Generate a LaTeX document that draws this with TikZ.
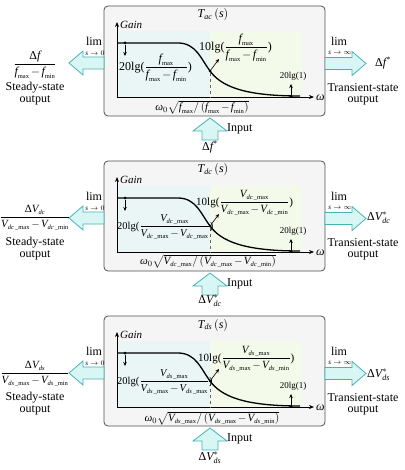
\documentclass[tikz,border=0pt]{standalone}
\usepackage{amsmath}
\usepackage{fontspec}
\setmainfont{Liberation Serif}
\usetikzlibrary{arrows.meta}
\definecolor{boxfill}{HTML}{F5F5F5}
\definecolor{boxline}{HTML}{505050}
\definecolor{arrfill}{HTML}{D8F6F4}
\definecolor{arrline}{HTML}{45B3B5}
\definecolor{shadeL}{HTML}{E9F6F5}
\definecolor{shadeR}{HTML}{F4FAE9}
\newcommand{\vi}[1]{\textit{#1}}
\newcommand{\Dl}{\text{Δ}}
\newcommand{\sbs}[1]{\text{\fontsize{6.5}{7}\selectfont #1}}
\newcommand{\mns}{\mathbin{\mkern-2mu-\mkern-2mu}}
\newcommand{\fmax}{\vi{f}_{\sbs{max}}}
\newcommand{\fmin}{\vi{f}_{\sbs{min}}}
\newcommand{\Vm}[2]{\vi{V}_{\sbs{\textit{#1}\,\_#2}}}
\tikzset{
  panelbox/.style={draw=boxline, line width=0.8pt, fill=boxfill, rounded corners=4pt},
  hollow/.style={draw=arrline, fill=arrfill, line width=0.8pt, line join=miter},
  lbl/.style={inner sep=0pt, font=\fontsize{12}{14}\selectfont},
  midtext/.style={inner sep=0pt, font=\fontsize{11}{13}\selectfont},
  lgsmall/.style={inner sep=0pt, font=\fontsize{10.5}{12}\selectfont},
  tinytext/.style={inner sep=0pt, font=\fontsize{7}{8}\selectfont},
  smalltext/.style={inner sep=0pt, font=\fontsize{9}{10}\selectfont},
  axisline/.style={line width=0.8pt, -{Stealth[length=5pt,width=4pt]}},
  pointer/.style={line width=0.6pt, -{Stealth[length=4pt,width=3.5pt]}},
  curve/.style={line width=1.3pt},
  dashline/.style={dashed, draw=black!60, line width=0.6pt},
  dot/.style={circle, fill=black, inner sep=0pt, minimum size=3pt}
}
\newcommand{\panelframe}[3]{%
\begin{scope}[shift={(0,#2)}]
  \node[panelbox, minimum width=221pt, minimum height=110pt] (#1box) at (214.5,61) {};
  \fill[shadeL] (117,31) rectangle (210,97);
  \fill[shadeR] (210,31) rectangle (302,97);
  \node[lbl] (#1title) at (213,15) {#3};
  \coordinate (#1o) at (117,97);
  \coordinate (#1yt) at (117,22);
  \coordinate (#1xt) at (314,97);
  \draw[curve] (117,43) -- (178,43) .. controls (196,43) and (201,59) .. (210,71) .. controls (221,86) and (243,96) .. (300,96);
  \draw[axisline] (#1o) -- (#1yt);
  \draw[axisline] (#1o) -- (#1xt);
  \node[midtext, anchor=west] (#1gain) at (120,25) {\textit{Gain}};
  \node[lbl, anchor=west] (#1omega) at (316,97.5) {\textit{ω}};
  \node[dot] (#1da) at (125,43) {};
  \node[dot] (#1db) at (210,71) {};
  \node[dot] (#1dc) at (291,96.5) {};
  \coordinate (#1aa) at (125,56);
  \coordinate (#1ab) at (219,59);
  \coordinate (#1ac) at (291,84);
  \coordinate (#1dash) at (210,97);
  \draw[dashline] (#1db) -- (#1dash);
  \draw[pointer] (#1da) -- (#1aa);
  \draw[pointer] (#1db) -- (#1ab);
  \draw[pointer] (#1dc) -- (#1ac);
  \node[smalltext] (#1one) at (293,76) {20lg(1)};
  \draw[hollow] (69,63) -- (83,51) -- (83,57) -- (104,57) -- (104,69) -- (83,69) -- (83,75) -- cycle;
  \draw[hollow] (325,57.5) -- (352,57.5) -- (352,51.5) -- (366,63.5) -- (352,75.5) -- (352,69.5) -- (325,69.5) -- cycle;
  \draw[hollow] (210,118) -- (227,131) -- (218,131) -- (218,140) -- (202,140) -- (202,131) -- (193,131) -- cycle;
  \node[lbl, anchor=west] (#1input) at (227,129) {Input};
  \node[lbl] (#1lima) at (94,41.5) {lim};
  \node[tinytext] (#1limas) at (95,53) {$\vi{s}\rightarrow 0$};
  \node[lbl] (#1limb) at (339,41.5) {lim};
  \node[tinytext] (#1limbs) at (340,53) {$\vi{s}\rightarrow\infty$};
  \node[lbl] (#1ss) at (35,87.5) {Steady-state};
  \node[lbl] (#1so) at (35,100) {output};
  \node[lbl] (#1ts) at (363,87.5) {Transient-state};
  \node[lbl] (#1to) at (363,100.5) {output};
\end{scope}}
\begin{document}
\begin{tikzpicture}[x=1pt, y=-1pt]
\useasboundingbox (0,0) rectangle (404,470);
% panel 1
\panelframe{pa}{0}{$\vi{T}_{\vi{ac}}\,(\vi{s})$}
\begin{scope}[shift={(0,0)}]
  \node[lbl, anchor=west] (palg20) at (119,68) {20lg($\dfrac{\fmax}{\fmax\mns\fmin}$)};
  \node[lbl, anchor=west] (palg10) at (199,48) {10lg($\dfrac{\fmax}{\fmax\mns\fmin}$)};
  \node[midtext] (pawz) at (202,107) {$\vi{ω}_0\sqrt{\fmax/\,(\fmax\mns\fmin)}$};
  \node[lbl] (paout) at (35,65) {$\dfrac{\Dl\vi{f}}{\fmax\mns\fmin}$};
  \node[lbl, anchor=west] (parout) at (375,63) {Δ$\vi{f}^{*}$};
  \node[lbl] (pain) at (210,147) {Δ$\vi{f}^{*}$};
\end{scope}
% panel 2
\panelframe{pb}{155}{$\vi{T}_{\vi{dc}}\,(\vi{s})$}
\begin{scope}[shift={(0,155)}]
  \node[lgsmall, anchor=west] (pblg20) at (117,72) {20lg($\dfrac{\Vm{dc}{max}}{\Vm{dc}{max}\mns\Vm{dc}{max}}$)};
  \node[midtext, anchor=west] (pblg10) at (196,48) {10lg($\dfrac{\Vm{dc}{max}}{\Vm{dc}{max}\mns\Vm{dc}{min}}$)};
  \node[midtext] (pbwz) at (208,106) {$\vi{ω}_0\sqrt{\Vm{dc}{max}/\,(\Vm{dc}{max}\mns\Vm{dc}{min})}$};
  \node[midtext] (pbout) at (35,63) {$\dfrac{\Dl\vi{V}_{\sbs{\textit{dc}}}}{\Vm{dc}{max}\mns\Vm{dc}{min}}$};
  \node[lbl, anchor=west] (pbrout) at (367,63) {Δ$\vi{V}^{*}_{\vi{dc}}$};
  \node[lbl] (pbin) at (210,146) {Δ$\vi{V}^{*}_{\vi{dc}}$};
\end{scope}
% panel 3
\panelframe{pc}{310}{$\vi{T}_{\vi{ds}}\,(\vi{s})$}
\begin{scope}[shift={(0,310)}]
  \node[lgsmall, anchor=west] (pclg20) at (117,72) {20lg($\dfrac{\Vm{ds}{max}}{\Vm{ds}{max}\mns\Vm{ds}{max}}$)};
  \node[midtext, anchor=west] (pclg10) at (198,49) {10lg($\dfrac{\Vm{ds}{max}}{\Vm{ds}{max}\mns\Vm{ds}{min}}$)};
  \node[midtext] (pcwz) at (212,108) {$\vi{ω}_0\sqrt{\Vm{ds}{max}/\,(\Vm{ds}{max}\mns\Vm{ds}{min})}$};
  \node[midtext] (pcout) at (35,64) {$\dfrac{\Dl\vi{V}_{\sbs{\textit{ds}}}}{\Vm{ds}{max}\mns\Vm{ds}{min}}$};
  \node[lbl, anchor=west] (pcrout) at (367,65) {Δ$\vi{V}^{*}_{\vi{ds}}$};
  \node[lbl] (pcin) at (210,148) {Δ$\vi{V}^{*}_{\vi{ds}}$};
\end{scope}
\end{tikzpicture}
\end{document}
